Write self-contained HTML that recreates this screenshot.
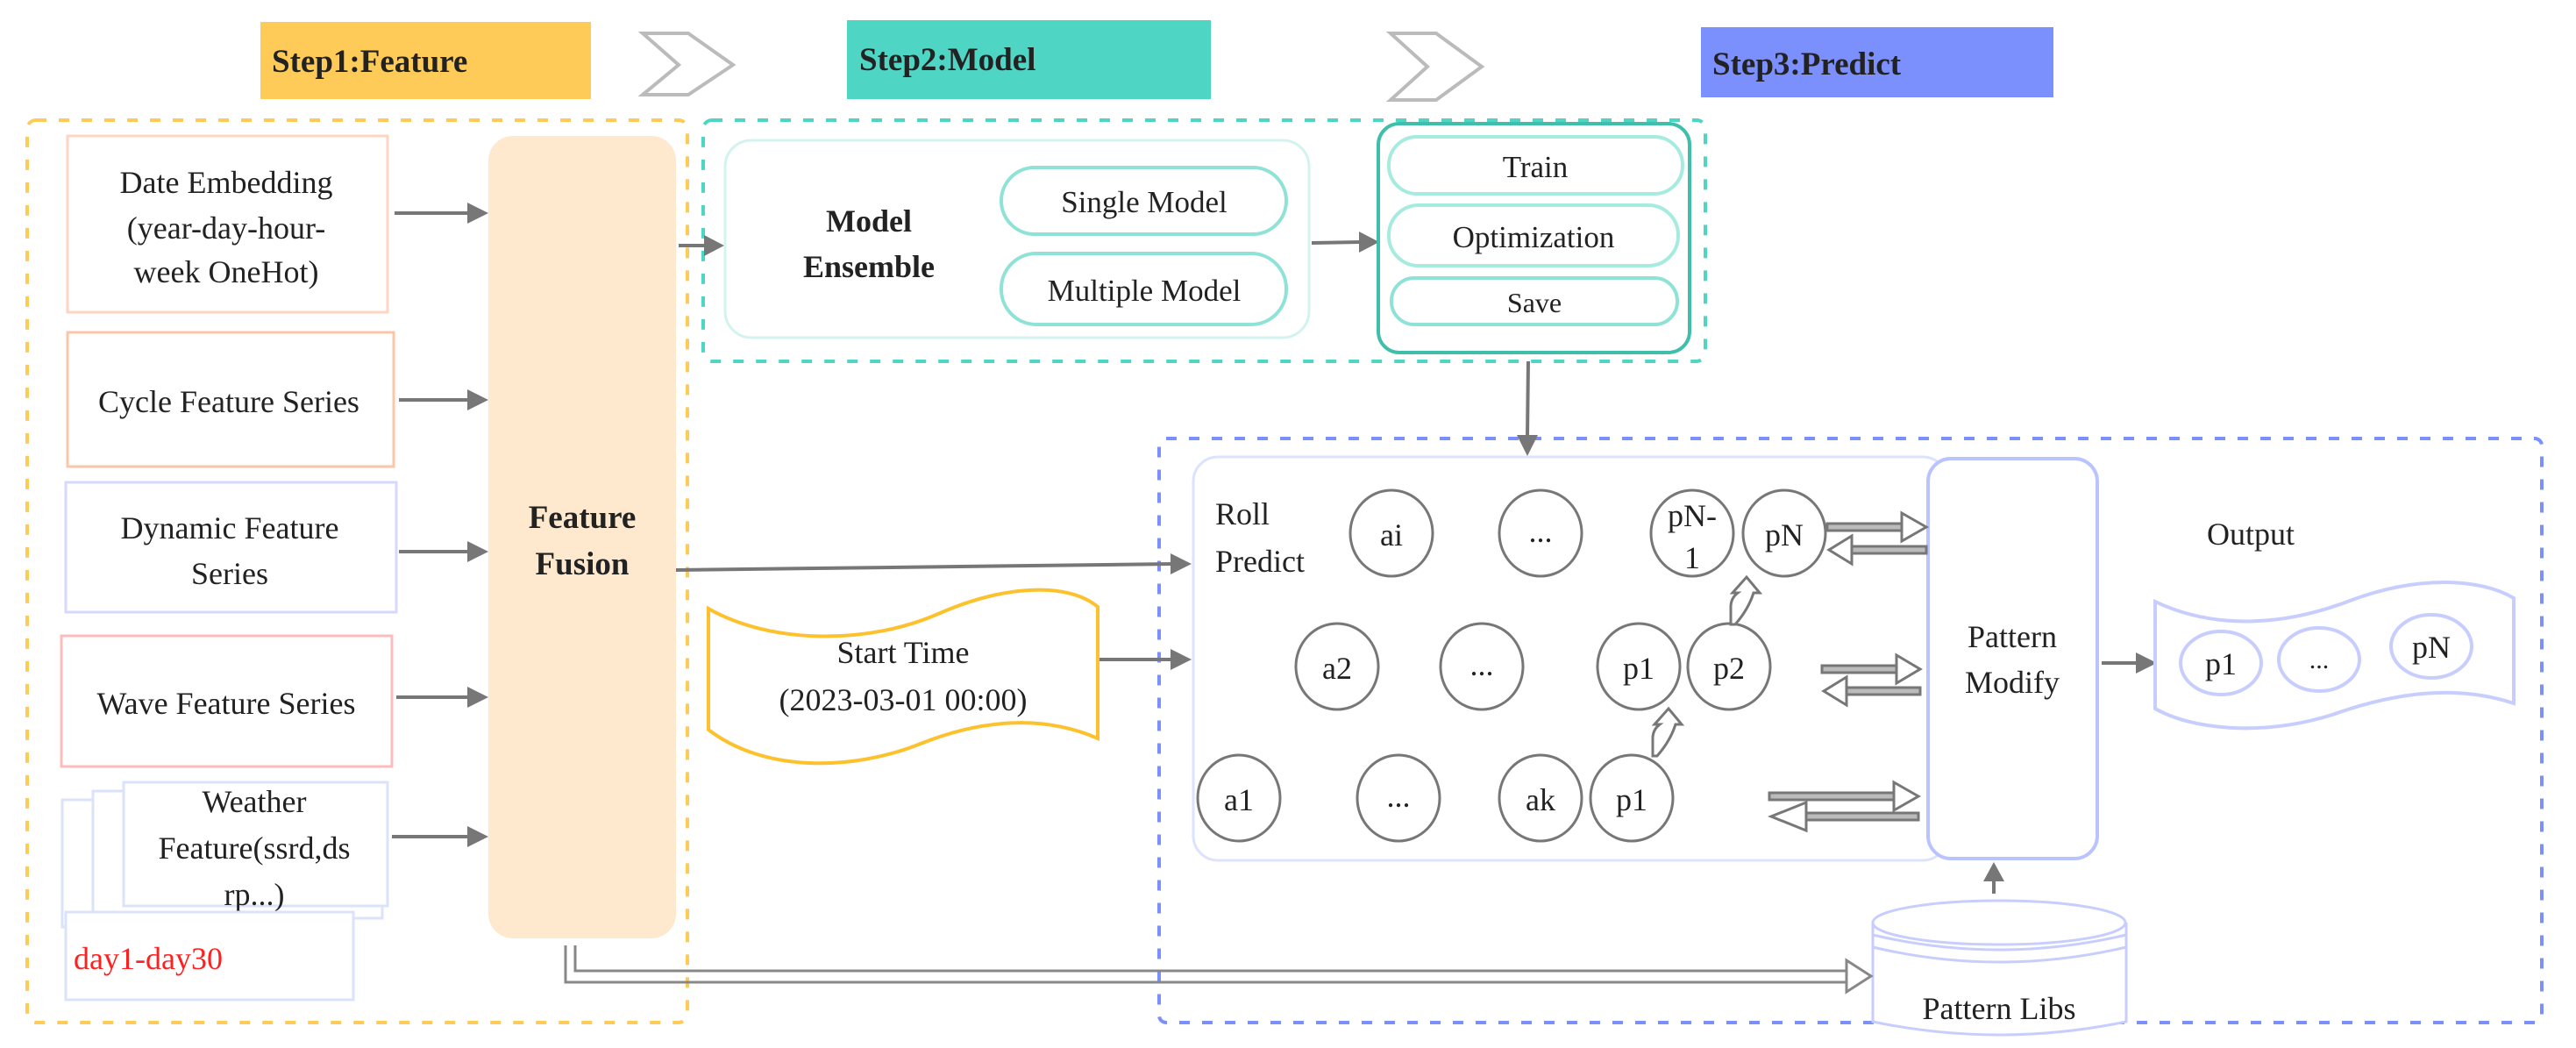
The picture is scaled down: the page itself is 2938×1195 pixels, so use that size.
<!DOCTYPE html>
<html><head><meta charset="utf-8"><style>
html,body{margin:0;padding:0;background:#fff;}
svg{display:block;}
text{font-family:"Liberation Serif","DejaVu Serif",serif;fill:#222;}
</style></head><body>
<svg width="2938" height="1195" viewBox="0 0 2938 1195" xmlns="http://www.w3.org/2000/svg" font-family="Liberation Serif, DejaVu Serif, serif">
<!-- step headers -->
<rect x="297" y="25" width="377" height="88" fill="#fecb58"/>
<text x="310" y="82" font-size="37" font-weight="bold">Step1:Feature</text>
<rect x="966" y="23" width="415" height="90" fill="#4fd5c4"/>
<text x="980" y="80" font-size="37" font-weight="bold">Step2:Model</text>
<rect x="1940" y="31" width="402" height="80" fill="#7b8ffd"/>
<text x="1953" y="85" font-size="37" font-weight="bold">Step3:Predict</text>
<polygon points="733,38 785,38 836,74 785,108 733,108 774,74" fill="#fff" stroke="#bbb" stroke-width="4"/>
<polygon points="1586,38 1638,38 1690,76 1638,114 1586,114 1628,76" fill="#fff" stroke="#bbb" stroke-width="4"/>

<!-- dashed containers -->
<rect x="31" y="137" width="753" height="1029" rx="10" fill="none" stroke="#fecb58" stroke-width="4" stroke-dasharray="12,14"/>
<rect x="802" y="137" width="1143" height="275" rx="10" fill="none" stroke="#4fd5c4" stroke-width="4" stroke-dasharray="12,14"/>
<rect x="1322" y="500" width="1577" height="666" rx="8" fill="none" stroke="#7b8ffd" stroke-width="4" stroke-dasharray="12,14"/>

<!-- left inputs -->
<rect x="77" y="155" width="365" height="201" fill="#fff" stroke="#fdd5c2" stroke-width="3"/>
<text x="258" y="220" font-size="36" text-anchor="middle">Date Embedding</text>
<text x="258" y="272" font-size="36" text-anchor="middle">(year-day-hour-</text>
<text x="258" y="322" font-size="36" text-anchor="middle">week OneHot)</text>
<rect x="77" y="379" width="372" height="153" fill="#fff" stroke="#fdc5a8" stroke-width="3"/>
<text x="261" y="470" font-size="36" text-anchor="middle">Cycle Feature Series</text>
<rect x="75" y="550" width="377" height="148" fill="#fff" stroke="#d5d9fd" stroke-width="3"/>
<text x="262" y="614" font-size="36" text-anchor="middle">Dynamic Feature</text>
<text x="262" y="666" font-size="36" text-anchor="middle">Series</text>
<rect x="70" y="725" width="377" height="149" fill="#fff" stroke="#fdbcbc" stroke-width="3"/>
<text x="258" y="814" font-size="36" text-anchor="middle">Wave Feature Series</text>
<rect x="71" y="912" width="330" height="145" fill="#fff" stroke="#dbe3fb" stroke-width="3"/>
<rect x="106" y="902" width="330" height="145" fill="#fff" stroke="#dbe3fb" stroke-width="3"/>
<rect x="141" y="892" width="301" height="141" fill="#fff" stroke="#dbe3fb" stroke-width="3"/>
<text x="290" y="926" font-size="36" text-anchor="middle">Weather</text>
<text x="290" y="979" font-size="36" text-anchor="middle">Feature(ssrd,ds</text>
<text x="290" y="1032" font-size="36" text-anchor="middle">rp...)</text>
<rect x="75" y="1040" width="328" height="100" fill="#fff" stroke="#dbe3fb" stroke-width="3"/>
<text x="84" y="1105" font-size="36" style="fill:#ff2020">day1-day30</text>

<!-- feature fusion -->
<rect x="557" y="155" width="214" height="915" rx="28" fill="#fee9cf"/>
<text x="664" y="602" font-size="37" font-weight="bold" text-anchor="middle">Feature</text>
<text x="664" y="655" font-size="37" font-weight="bold" text-anchor="middle">Fusion</text>

<g stroke="#777" stroke-width="4" fill="#777">
<line x1="450" y1="243" x2="535" y2="243"/><polygon points="533,231 557,243 533,255" stroke="none"/>
<line x1="455" y1="456" x2="535" y2="456"/><polygon points="533,444 557,456 533,468" stroke="none"/>
<line x1="455" y1="629" x2="535" y2="629"/><polygon points="533,617 557,629 533,641" stroke="none"/>
<line x1="452" y1="795" x2="535" y2="795"/><polygon points="533,783 557,795 533,807" stroke="none"/>
<line x1="447" y1="954" x2="535" y2="954"/><polygon points="533,942 557,954 533,966" stroke="none"/>
<line x1="774" y1="280" x2="805" y2="280"/><polygon points="803,268 826,280 803,292" stroke="none"/>
<line x1="1496" y1="277" x2="1552" y2="276"/><polygon points="1550,264 1573,276 1550,288" stroke="none"/>
<line x1="1743" y1="412" x2="1742" y2="498"/><polygon points="1730,496 1742,520 1754,496" stroke="none"/>
<line x1="771" y1="650" x2="1337" y2="643"/><polygon points="1335,631 1359,643 1335,655" stroke="none"/>
<line x1="1252" y1="752" x2="1337" y2="752"/><polygon points="1335,740 1359,752 1335,764" stroke="none"/>
<line x1="2397" y1="756" x2="2438" y2="756"/><polygon points="2436,744 2460,756 2436,768" stroke="none"/>
<line x1="2274" y1="1019" x2="2274" y2="1003"/><polygon points="2262,1005 2274,983 2286,1005" stroke="none"/>
</g>

<!-- model ensemble -->
<rect x="827" y="160" width="666" height="225" rx="30" fill="#fff" stroke="#d2f3ee" stroke-width="3"/>
<text x="991" y="264" font-size="36" font-weight="bold" text-anchor="middle">Model</text>
<text x="991" y="316" font-size="36" font-weight="bold" text-anchor="middle">Ensemble</text>
<rect x="1142" y="191" width="325" height="76" rx="38" fill="#fff" stroke="#8fe2d6" stroke-width="4"/>
<text x="1305" y="242" font-size="35" text-anchor="middle">Single Model</text>
<rect x="1142" y="289" width="325" height="81" rx="40" fill="#fff" stroke="#8fe2d6" stroke-width="4"/>
<text x="1305" y="343" font-size="35" text-anchor="middle">Multiple Model</text>

<rect x="1572" y="141" width="355" height="261" rx="24" fill="#fff" stroke="#3fbfaa" stroke-width="4"/>
<rect x="1584" y="156" width="335" height="65" rx="32" fill="#fff" stroke="#a6ebe0" stroke-width="4"/>
<text x="1751" y="202" font-size="35" text-anchor="middle">Train</text>
<rect x="1584" y="234" width="330" height="69" rx="34" fill="#fff" stroke="#a6ebe0" stroke-width="4"/>
<text x="1749" y="282" font-size="35" text-anchor="middle">Optimization</text>
<rect x="1587" y="317" width="326" height="53" rx="26" fill="#fff" stroke="#8fe2d6" stroke-width="4"/>
<text x="1750" y="356" font-size="32" text-anchor="middle">Save</text>

<!-- start time -->
<path d="M808,694 C 880,735 990,735 1070,700 C 1150,665 1220,665 1252,692 L1252,842 C 1190,815 1120,820 1050,848 C 970,880 870,880 808,832 Z" fill="#fff" stroke="#fdc12d" stroke-width="4"/>
<text x="1030" y="756" font-size="36" text-anchor="middle">Start Time</text>
<text x="1030" y="810" font-size="36" text-anchor="middle">(2023-03-01 00:00)</text>

<!-- roll predict panel -->
<rect x="1361" y="521" width="860" height="460" rx="28" fill="#fff" stroke="#dde2fd" stroke-width="3"/>
<rect x="2199" y="523" width="193" height="456" rx="26" fill="#fff" stroke="#b9c3fd" stroke-width="4"/>
<text x="2295" y="738" font-size="36" text-anchor="middle">Pattern</text>
<text x="2295" y="790" font-size="36" text-anchor="middle">Modify</text>
<text x="1386" y="598" font-size="36">Roll</text>
<text x="1386" y="652" font-size="36">Predict</text>

<g fill="#fff" stroke="#777" stroke-width="3">
<ellipse cx="1587" cy="608" rx="47" ry="49"/>
<ellipse cx="1757" cy="608" rx="47" ry="49"/>
<ellipse cx="1930" cy="608" rx="47" ry="49"/>
<ellipse cx="2035" cy="608" rx="47" ry="49"/>
<ellipse cx="1525" cy="760" rx="47" ry="49"/>
<ellipse cx="1690" cy="760" rx="47" ry="49"/>
<ellipse cx="1869" cy="760" rx="47" ry="49"/>
<ellipse cx="1972" cy="760" rx="47" ry="49"/>
<ellipse cx="1413" cy="910" rx="47" ry="49"/>
<ellipse cx="1595" cy="910" rx="47" ry="49"/>
<ellipse cx="1757" cy="910" rx="47" ry="49"/>
<ellipse cx="1861" cy="910" rx="47" ry="49"/>
</g>
<g font-size="36" text-anchor="middle">
<text x="1587" y="622">ai</text>
<text x="1757" y="618">...</text>
<text x="1930" y="600">pN-</text>
<text x="1930" y="648">1</text>
<text x="2035" y="622">pN</text>
<text x="1525" y="774">a2</text>
<text x="1690" y="770">...</text>
<text x="1869" y="774">p1</text>
<text x="1972" y="774">p2</text>
<text x="1413" y="924">a1</text>
<text x="1595" y="920">...</text>
<text x="1757" y="924">ak</text>
<text x="1861" y="924">p1</text>
</g>
<!-- small curved up arrows -->
<g fill="#fff" stroke="#777" stroke-width="3">
<path d="M1885,862 L1885,842 Q1885,832 1893,826 L1887,826 L1903,808 L1918,826 L1911,826 Q1905,845 1890,862 Z"/>
<path d="M1974,712 L1974,692 Q1974,682 1982,676 L1976,676 L1992,658 L2007,676 L2000,676 Q1994,695 1979,712 Z"/>
</g>

<!-- double hollow arrows -->
<g stroke="#777" stroke-width="3">
<rect x="2084" y="597" width="85" height="8" fill="#bbb"/>
<polygon points="2169,585 2197,601 2169,617" fill="#fff"/>
<rect x="2112" y="623" width="85" height="8" fill="#bbb"/>
<polygon points="2112,611 2086,627 2112,643" fill="#fff"/>
<rect x="2078" y="759" width="85" height="8" fill="#bbb"/>
<polygon points="2163,747 2190,763 2163,779" fill="#fff"/>
<rect x="2106" y="784" width="84" height="8" fill="#bbb"/>
<polygon points="2106,772 2080,788 2106,804" fill="#fff"/>
<rect x="2018" y="904" width="142" height="8" fill="#bbb"/>
<polygon points="2160,892 2188,908 2160,924" fill="#fff"/>
<rect x="2060" y="927" width="128" height="8" fill="#bbb"/>
<polygon points="2060,915 2020,931 2060,947" fill="#fff"/>
</g>

<!-- output -->
<text x="2567" y="621" font-size="36" text-anchor="middle">Output</text>
<path d="M2458,686 C 2530,720 2610,712 2680,685 C 2760,655 2830,660 2867,682 L2867,802 C 2800,780 2730,790 2660,815 C 2580,840 2500,832 2458,808 Z" fill="#fff" stroke="#c7cefd" stroke-width="4"/>
<g fill="#fff" stroke="#c7cefd" stroke-width="4">
<ellipse cx="2533" cy="756" rx="46" ry="36"/>
<ellipse cx="2645" cy="752" rx="46" ry="36"/>
<ellipse cx="2773" cy="737" rx="46" ry="36"/>
</g>
<text x="2533" y="769" font-size="36" text-anchor="middle">p1</text>
<text x="2645" y="762" font-size="30" text-anchor="middle">...</text>
<text x="2773" y="750" font-size="36" text-anchor="middle">pN</text>

<!-- pattern libs cylinder -->
<path d="M2136,1052 L2136,1165 Q2280,1195 2425,1165 L2425,1052" fill="#fff" stroke="#c7cefd" stroke-width="3"/>
<ellipse cx="2280" cy="1052" rx="144" ry="25" fill="#fff" stroke="#c7cefd" stroke-width="3"/>
<path d="M2136,1066 Q2280,1100 2425,1066" fill="none" stroke="#c7cefd" stroke-width="3"/>
<path d="M2136,1080 Q2280,1114 2425,1080" fill="none" stroke="#c7cefd" stroke-width="3"/>
<text x="2280" y="1162" font-size="36" text-anchor="middle">Pattern Libs</text>

<!-- bottom double line -->
<g fill="none" stroke="#888" stroke-width="3">
<path d="M645,1078 L645,1120 L2108,1120"/>
<path d="M656,1078 L656,1107 L2108,1107"/>
</g>
<polygon points="2106,1095 2134,1113 2106,1131" fill="#fff" stroke="#888" stroke-width="3"/>
</svg>
</body></html>
